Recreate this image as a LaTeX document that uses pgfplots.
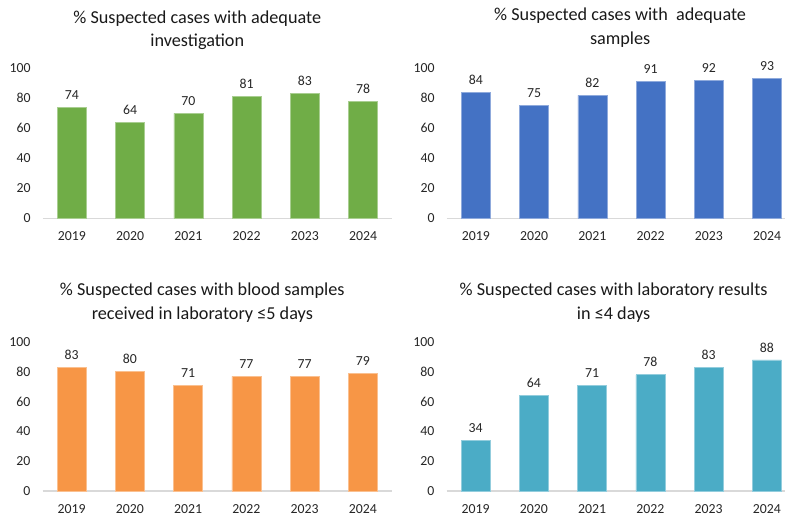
\documentclass[border=0pt]{standalone}
\usepackage{fontspec}
\setmainfont{Carlito}
\usepackage{pgfplots}
\pgfplotsset{compat=1.18}
\definecolor{cgreen}{HTML}{70AD47}
\definecolor{cblue}{HTML}{4472C4}
\definecolor{corange}{HTML}{F79646}
\definecolor{cteal}{HTML}{4BACC6}
\definecolor{txt}{HTML}{262626}
\pgfplotsset{
  /pgf/number format/assume math mode=true,
  panel/.style={
    scale only axis, width=349.5pt, ymin=0, ymax=100, xmin=-0.5, xmax=5.5,
    enlargelimits=false, clip=false,
    ybar, bar width=29pt,
    ytick={0,20,40,60,80,100}, xtick={0,1,2,3,4,5},
    xticklabels={2019,2020,2021,2022,2023,2024},
    axis x line*=bottom, axis y line*=left,
    x axis line style={-, draw=black!15, line width=1.2pt},
    y axis line style={draw=none},
    major tick length=0pt, tick style={draw=none},
    ticklabel style={font=\fontsize{13.8}{16}\selectfont, text=txt},
    yticklabel style={anchor=east, inner sep=0pt, xshift=-12pt},
    xticklabel style={anchor=center, inner sep=0pt, yshift=-18pt},
    nodes near coords,
    nodes near coords style={font=\fontsize{13.8}{16}\selectfont, text=txt, anchor=center, yshift=12.5pt},
    title style={anchor=center, align=center, font=\fontsize{18.2}{23.5}\selectfont, text=black!90},
  }
}
\begin{document}
\begin{tikzpicture}
\path[use as bounding box] (0,0) rectangle (785pt,518pt);
% Panel 1
\begin{axis}[panel, height=150pt, at={(42.8pt,299.7pt)}, anchor=south west,
  title={\% Suspected cases with adequate\\investigation},
  title style={at={(axis description cs:0.442,1.212)}}]
\addplot[fill=cgreen, draw=cgreen!60!white, line width=0.6pt] coordinates {(0,74) (1,64) (2,70) (3,81) (4,83) (5,78)};
\end{axis}
% Panel 2
\begin{axis}[panel, height=150pt, at={(446.8pt,299.7pt)}, anchor=south west,
  title={\% Suspected cases with\ \ adequate\\samples},
  title style={at={(axis description cs:0.496,1.23)}}]
\addplot[fill=cblue, draw=cblue!60!white, line width=0.6pt] coordinates {(0,84) (1,75) (2,82) (3,91) (4,92) (5,93)};
\end{axis}
% Panel 3
\begin{axis}[panel, height=149pt, at={(42.6pt,27pt)}, anchor=south west,
  title={\% Suspected cases with blood samples\\received in laboratory ≤5 days},
  title style={at={(axis description cs:0.457,1.225)}}]
\addplot[fill=corange, draw=corange!60!white, line width=0.6pt] coordinates {(0,83) (1,80) (2,71) (3,77) (4,77) (5,79)};
\end{axis}
% Panel 4
\begin{axis}[panel, height=149pt, at={(446.6pt,27pt)}, anchor=south west,
  title={\% Suspected cases with laboratory results\\in ≤4 days},
  title style={at={(axis description cs:0.478,1.225)}}]
\addplot[fill=cteal, draw=cteal!60!white, line width=0.6pt] coordinates {(0,34) (1,64) (2,71) (3,78) (4,83) (5,88)};
\end{axis}
\end{tikzpicture}
\end{document}
